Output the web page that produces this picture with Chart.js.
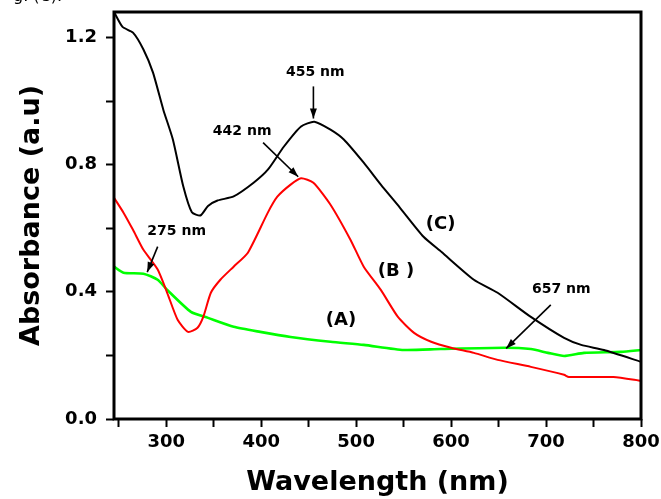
<!DOCTYPE html>
<html>
<head>
<meta charset="utf-8">
<script src="https://cdn.jsdelivr.net/npm/chart.js@4.4.1/dist/chart.umd.min.js"></script>
<style>
  html, body { margin: 0; padding: 0; background: #fff; }
  #wrap { width: 661px; height: 499px; }
</style>
</head>
<body>
<div id="wrap"><canvas id="grafico" width="661" height="499"></canvas></div>
<script>
const ondaC = [245, 254, 265, 276, 286, 297, 307, 318, 327, 336, 344, 354, 371, 392, 407, 424, 442, 456, 473, 487, 508, 526, 546, 571, 590, 624, 649, 684, 719, 737, 761, 800];
const absC = [1.28, 1.233, 1.215, 1.162, 1.09, 0.972, 0.879, 0.731, 0.65, 0.64, 0.67, 0.687, 0.70, 0.743, 0.784, 0.857, 0.92, 0.935, 0.91, 0.879, 0.806, 0.737, 0.665, 0.573, 0.525, 0.438, 0.397, 0.321, 0.255, 0.233, 0.217, 0.18];

const ondaB = [245, 255, 265, 276, 291, 301, 312, 323, 333, 339, 347, 357, 371, 386, 407, 417, 431, 442, 455, 473, 494, 508, 526, 544, 561, 579, 600, 624, 649, 684, 719, 724, 771, 800];
const absB = [0.696, 0.649, 0.595, 0.532, 0.47, 0.397, 0.312, 0.274, 0.287, 0.321, 0.397, 0.438, 0.479, 0.523, 0.649, 0.699, 0.737, 0.757, 0.743, 0.674, 0.564, 0.479, 0.406, 0.321, 0.271, 0.243, 0.224, 0.208, 0.186, 0.164, 0.139, 0.132, 0.132, 0.12];

const ondaA = [245, 255, 276, 291, 301, 326, 344, 371, 399, 431, 473, 508, 550, 589, 656, 684, 702, 719, 740, 779, 800];
const absA = [0.479, 0.46, 0.457, 0.438, 0.406, 0.337, 0.318, 0.29, 0.274, 0.258, 0.243, 0.233, 0.217, 0.22, 0.224, 0.22, 0.208, 0.198, 0.208, 0.211, 0.217];

const etiquetasY = [0.0, 0.4, 0.8, 1.2];
const etiquetasX = [300, 400, 500, 600, 700, 800];

// picos marcados: texto, posicion del texto, inicio y fin de la flecha
const picos = [
    { texto: "455 nm", tx: 457, ty: 1.09, x1: 455, y1: 1.046, x2: 455, y2: 0.945 },
    { texto: "442 nm", tx: 380, ty: 0.904, x1: 402, y1: 0.869, x2: 439, y2: 0.762 },
    { texto: "275 nm", tx: 311, ty: 0.589, x1: 291, y1: 0.542, x2: 280, y2: 0.462 },
    { texto: "657 nm", tx: 716, ty: 0.409, x1: 705, y1: 0.359, x2: 658, y2: 0.222 }
];
const curvas = [
    { texto: "(C)", tx: 589, ty: 0.611 },
    { texto: "(B )", tx: 542, ty: 0.463 },
    { texto: "(A)", tx: 484, ty: 0.309 }
];

const fuente = "DejaVu Sans";

function puntos(xs, ys) {
    return xs.map((x, i) => ({ x: x, y: ys[i] }));
}

// marco, flechas y textos sobre el grafico
const anotaciones = {
    id: "anotaciones",
    afterDatasetsDraw(chart) {
        const ctx = chart.ctx;
        const a = chart.chartArea;
        const sx = chart.scales.x;
        const sy = chart.scales.y;
        ctx.save();

        ctx.strokeStyle = "#000";
        ctx.lineWidth = 3;
        ctx.strokeRect(a.left, a.top, a.right - a.left, a.bottom - a.top);

        ctx.fillStyle = "#000";
        ctx.lineWidth = 1.6;
        picos.forEach(p => {
            const x1 = sx.getPixelForValue(p.x1), y1 = sy.getPixelForValue(p.y1);
            const x2 = sx.getPixelForValue(p.x2), y2 = sy.getPixelForValue(p.y2);
            const ang = Math.atan2(y2 - y1, x2 - x1);
            ctx.beginPath();
            ctx.moveTo(x1, y1);
            ctx.lineTo(x2, y2);
            ctx.stroke();
            ctx.beginPath();
            ctx.moveTo(x2, y2);
            ctx.lineTo(x2 - 10 * Math.cos(ang) + 3.5 * Math.sin(ang), y2 - 10 * Math.sin(ang) - 3.5 * Math.cos(ang));
            ctx.lineTo(x2 - 10 * Math.cos(ang) - 3.5 * Math.sin(ang), y2 - 10 * Math.sin(ang) + 3.5 * Math.cos(ang));
            ctx.closePath();
            ctx.fill();

            ctx.font = "bold 14px " + fuente;
            ctx.textAlign = "center";
            ctx.textBaseline = "middle";
            ctx.fillText(p.texto, sx.getPixelForValue(p.tx), sy.getPixelForValue(p.ty));
        });

        ctx.font = "bold 18px " + fuente;
        curvas.forEach(c => {
            ctx.fillText(c.texto, sx.getPixelForValue(c.tx), sy.getPixelForValue(c.ty));
        });

        // resto del pie de figura cortado arriba
        ctx.font = "16px " + fuente;
        ctx.textAlign = "left";
        ctx.textBaseline = "alphabetic";
        ctx.fillText("g. (C).", 13, 1);
        ctx.restore();
    }
};

function renderizarGrafico() {
    const ctx = document.getElementById("grafico");

    new Chart(ctx, {
        type: "line",
        data: {
            datasets: [
                { label: "(C)", data: puntos(ondaC, absC), borderColor: "#000000" },
                { label: "(B)", data: puntos(ondaB, absB), borderColor: "#ff0000" },
                { label: "(A)", data: puntos(ondaA, absA), borderColor: "#00ff00", borderWidth: 2.6 }
            ]
        },
        options: {
            responsive: false,
            animation: false,
            devicePixelRatio: 1,
            layout: { padding: { left: 0, right: 20, top: 12, bottom: 0 } },
            elements: {
                point: { radius: 0 },
                line: { borderWidth: 2, tension: 0.2, fill: false }
            },
            scales: {
                x: {
                    type: "linear",
                    min: 245,
                    max: 800,
                    afterFit: s => { s.height = 80; s.paddingLeft = 0; s.paddingRight = 0; },
                    border: { display: false },
                    grid: { drawOnChartArea: false, tickLength: 8, tickWidth: 2, tickColor: "#000" },
                    ticks: {
                        stepSize: 50,
                        includeBounds: false,
                        autoSkip: false,
                        maxRotation: 0,
                        padding: 5,
                        color: "#000",
                        font: { family: fuente, size: 18, weight: "bold" },
                        callback: v => etiquetasX.includes(v) ? String(v) : ""
                    },
                    title: {
                        display: true,
                        text: "Wavelength (nm)",
                        color: "#000",
                        padding: { top: 0, bottom: 0 },
                        font: { family: fuente, size: 27, weight: "bold", lineHeight: 1.2 }
                    }
                },
                y: {
                    min: 0,
                    max: 1.28,
                    afterFit: s => { s.width = 114; s.paddingTop = 0; s.paddingBottom = 0; },
                    border: { display: false },
                    grid: { drawOnChartArea: false, tickLength: 8, tickWidth: 2, tickColor: "#000" },
                    ticks: {
                        stepSize: 0.2,
                        includeBounds: false,
                        autoSkip: false,
                        padding: 9,
                        color: "#000",
                        font: { family: fuente, size: 18, weight: "bold" },
                        callback: v => etiquetasY.some(e => Math.abs(e - v) < 1e-6) ? v.toFixed(1) : ""
                    },
                    title: {
                        display: true,
                        text: "Absorbance (a.u)",
                        color: "#000",
                        padding: { top: 16, bottom: 0 },
                        font: { family: fuente, size: 27, weight: "bold", lineHeight: 1.2 }
                    }
                }
            },
            plugins: {
                legend: { display: false },
                tooltip: { enabled: false }
            }
        },
        plugins: [anotaciones]
    });
}

renderizarGrafico();
</script>
</body>
</html>
